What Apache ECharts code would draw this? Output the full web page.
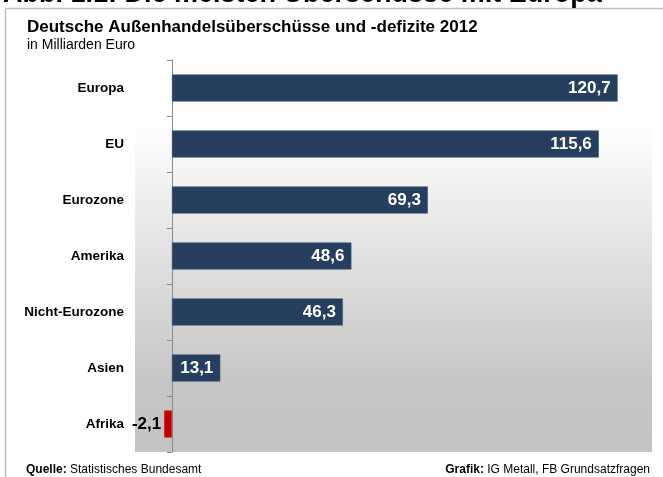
<!DOCTYPE html>
<html>
<head>
<meta charset="utf-8">
<script src="https://cdn.jsdelivr.net/npm/echarts@6/dist/echarts.min.js"></script>
<style>
html,body{margin:0;padding:0;background:#fff;}
#c{width:663px;height:477px;}
</style>
</head>
<body>
<div id="c"></div>
<script>
const categories = ['Europa','EU','Eurozone','Amerika','Nicht-Eurozone','Asien','Afrika'];
const values = [120.7, 115.6, 69.3, 48.6, 46.3, 13.1, -2.1];

const FONT = '"Liberation Sans", Arial, sans-serif';
const chart = echarts.init(document.getElementById('c'), null, {renderer:'canvas'});

const seriesData = values.map(v => ({
  value: v,
  itemStyle: { color: v < 0 ? '#c00000' : '#263f5f', borderColor: v < 0 ? '#d01010' : '#3d5675', borderWidth: 0.6 },
  label: v < 0
    ? { position: 'left', color: '#000', distance: 3 }
    : { position: 'insideRight', color: '#fff', distance: 7 }
}));

chart.setOption({
  animation: false,
  backgroundColor: '#ffffff',
  graphic: [
    { type: 'line', shape: {x1: 5.5, y1: 8.5, x2: 5.5, y2: 477}, style: {stroke: '#c0c0c0', lineWidth: 1.5} },
    { type: 'line', shape: {x1: 5.5, y1: 8.5, x2: 663, y2: 8.5}, style: {stroke: '#c0c0c0', lineWidth: 1.5} },
    { type: 'text', left: 3, top: -19, style: { text: 'Abb. 1.1: Die meisten Überschüsse mit Europa', font: 'bold 27px ' + FONT, fill: '#000' } },
    { type: 'text', left: 27, top: 19, style: { text: 'Deutsche Außenhandelsüberschüsse und -defizite 2012', font: 'bold 17px ' + FONT, fill: '#000' } },
    { type: 'text', left: 27, top: 38, style: { text: 'in Milliarden Euro', font: '14px ' + FONT, fill: '#000' } },
    { type: 'text', left: 26, top: 464, style: { rich: { b: { font: 'bold 12px ' + FONT, fill: '#000' }, n: { font: '12px ' + FONT, fill: '#000' } }, text: '{b|Quelle:} {n|Statistisches Bundesamt}' } },
    { type: 'text', right: 13, top: 464, style: { rich: { b: { font: 'bold 12px ' + FONT, fill: '#000' }, n: { font: '12px ' + FONT, fill: '#000' } }, text: '{b|Grafik:} {n|IG Metall, FB Grundsatzfragen}' } }
  ],
  grid: {
    left: 135, right: 11, top: 60, bottom: 25,
    containLabel: false,
    outerBoundsMode: 'none',
    show: true, borderWidth: 0,
    backgroundColor: { type: 'linear', x: 0, y: 0, x2: 0, y2: 1, colorStops: [
      {offset: 0, color: '#ffffff'},
      {offset: 0.17, color: '#fefefe'},
      {offset: 0.82, color: '#c6c6c6'},
      {offset: 1, color: '#c3c3c3'}
    ]}
  },
  xAxis: {
    type: 'value', min: -10, max: 130, show: false
  },
  yAxis: {
    type: 'category', data: categories, inverse: true,
    axisLine: { show: true, onZero: true, lineStyle: { color: '#8a8a8a', width: 1 } },
    axisTick: { show: true, length: 5, inside: false, lineStyle: { color: '#8a8a8a' } },
    axisLabel: { margin: 11, color: '#000', fontFamily: FONT, fontWeight: 'bold', fontSize: 13.5 },
    splitLine: { show: false }
  },
  series: [{
    type: 'bar', data: seriesData, barWidth: 27,
    label: { show: true, fontFamily: FONT, fontWeight: 'bold', fontSize: 17,
      formatter: p => String(p.value).replace('.', ',') }
  }]
});
</script>
</body>
</html>
